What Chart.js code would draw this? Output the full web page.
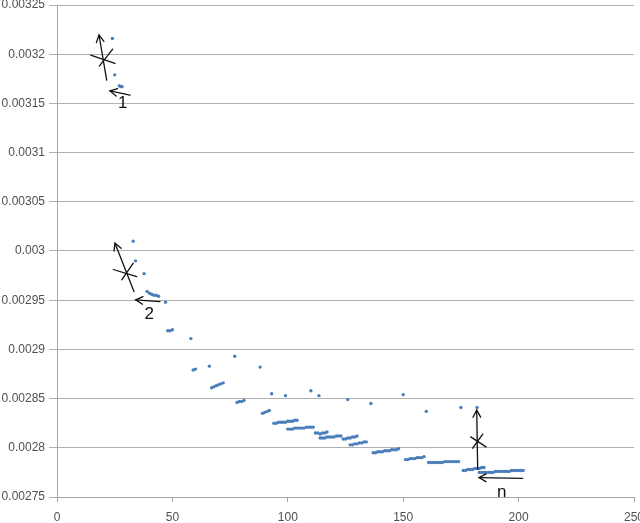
<!DOCTYPE html>
<html>
<head>
<meta charset="utf-8">
<script src="https://cdn.jsdelivr.net/npm/chart.js@4/dist/chart.umd.min.js"></script>
<style>
html,body{margin:0;padding:0;background:#fff;}
#wrap{width:640px;height:523px;position:relative;}
</style>
</head>
<body>
<div id="wrap"><canvas id="c" width="640" height="523"></canvas></div>
<script>
// Data
const xValues = [
  24, 25, 27, 27.6, 28.2,
  33, 34, 37.7, 39, 40, 41, 42, 43, 44, 47, 48, 49, 50, 58,
  59, 60, 66, 67, 68, 69, 70, 71, 72, 77, 78, 79, 80, 81,
  88, 89, 90, 91, 92, 93,
  94, 95, 96, 97, 98, 99, 100, 101, 102, 103, 104,
  99, 100, 101, 102, 103, 104, 105, 106, 107, 108, 109, 110, 111,
  110, 113.5, 112, 113, 114, 115, 116, 117,
  114, 115, 116, 117, 118, 119, 120, 121, 122, 123,
  124, 125, 126, 127, 128, 129, 130, 126,
  127, 128, 129, 130, 131, 132, 133, 134, 136,
  137, 138, 139, 140, 141, 142, 143, 144, 145, 146, 147, 148, 150,
  151, 152, 153, 154, 155, 156, 157, 158, 159, 160,
  161, 162, 163, 164, 165, 166, 167, 168, 169, 170, 171, 172, 173, 174, 175,
  176, 177, 178, 179, 180, 181, 182, 183, 184, 185, 182,
  183, 184, 185, 186, 187, 188, 189, 190, 191, 192, 193, 194, 195, 196, 197, 198, 199, 200, 201, 202
];
const yValues = [
  0.003216, 0.003179, 0.003168, 0.003167, 0.003167,
  0.003010, 0.002990, 0.002977, 0.002959, 0.002957, 0.002956, 0.002955, 0.002955, 0.002954, 0.002948, 0.002919, 0.002919, 0.002920, 0.002911,
  0.002879, 0.002880, 0.002883, 0.002861, 0.002862, 0.002863, 0.002864, 0.002865, 0.002866, 0.002893, 0.002846, 0.002847, 0.002847, 0.002848,
  0.002882, 0.002835, 0.002836, 0.002837, 0.002838, 0.002855,
  0.002825, 0.002825, 0.002826, 0.002826, 0.002826, 0.002826, 0.002827, 0.002827, 0.002827, 0.002828, 0.002828,
  0.002853, 0.002819, 0.002819, 0.002819, 0.002820, 0.002820, 0.002820, 0.002820, 0.002820, 0.002821, 0.002821, 0.002821, 0.002821,
  0.002858, 0.002853, 0.002815, 0.002815, 0.002814, 0.002815, 0.002815, 0.002816,
  0.002810, 0.002810, 0.002810, 0.002811, 0.002811, 0.002811, 0.002811, 0.002812, 0.002812, 0.002812,
  0.002809, 0.002809, 0.002810, 0.002810, 0.002811, 0.002811, 0.002812, 0.002849,
  0.002803, 0.002803, 0.002804, 0.002804, 0.002805, 0.002805, 0.002806, 0.002806, 0.002845,
  0.002795, 0.002795, 0.002796, 0.002796, 0.002796, 0.002797, 0.002797, 0.002797, 0.002798, 0.002798, 0.002798, 0.002799, 0.002854,
  0.002788, 0.002788, 0.002789, 0.002789, 0.002789, 0.002790, 0.002790, 0.002790, 0.002791, 0.002837,
  0.002785, 0.002785, 0.002785, 0.002785, 0.002785, 0.002785, 0.002785, 0.002786, 0.002786, 0.002786, 0.002786, 0.002786, 0.002786, 0.002786, 0.002841,
  0.002777, 0.002777, 0.002778, 0.002778, 0.002778, 0.002779, 0.002779, 0.002779, 0.002780, 0.002780, 0.002841,
  0.002775, 0.002775, 0.002775, 0.002775, 0.002775, 0.002775, 0.002775, 0.002776, 0.002776, 0.002776, 0.002776, 0.002776, 0.002776, 0.002776, 0.002777, 0.002777, 0.002777, 0.002777, 0.002777, 0.002777
];
const xTicks = [0, 50, 100, 150, 200, 250];
const yTicks = [0.00275, 0.0028, 0.00285, 0.0029, 0.00295, 0.003, 0.00305, 0.0031, 0.00315, 0.0032, 0.00325];
const yTickLabels = ['0.00275','0.0028','0.00285','0.0029','0.00295','0.003','0.00305','0.0031','0.00315','0.0032','0.00325'];

// Hand-drawn annotations, in data coordinates
const markLabels = ['1', '2', 'n'];
const markLabelPos = [[28.47, 0.0031499], [39.99, 0.0029353], [192.68, 0.0027544]];
const markArrows = [ // [fromX, fromY, toX(tip), toY(tip)]
  [21.53, 0.0031736, 18.20, 0.0032195],
  [31.63, 0.0031584, 22.96, 0.0031627],
  [33.36, 0.0029588, 25.13, 0.0030079],
  [44.63, 0.0029486, 34.10, 0.0029503],
  [182.28, 0.0027782, 181.85, 0.0028383],
  [201.78, 0.0027690, 182.84, 0.0027697]
];
const markCrossLines = [
  [14.60, 0.0031991, 25.13, 0.0031906],
  [18.33, 0.0031879, 24.13, 0.0032052],
  [24.39, 0.0029812, 34.53, 0.0029740],
  [28.03, 0.0029707, 33.06, 0.0029876],
  [179.25, 0.0028111, 185.88, 0.0028009],
  [180.11, 0.0027996, 184.45, 0.0028139]
];

const points = xValues.map((x, i) => ({x: x, y: yValues[i]}));

const annotate = {
  id: 'annotate',
  afterDatasetsDraw(chart) {
    const ctx = chart.ctx, xs = chart.scales.x, ys = chart.scales.y;
    const P = (x, y) => [xs.getPixelForValue(x), ys.getPixelForValue(y)];
    ctx.save();
    ctx.strokeStyle = '#111';
    ctx.lineWidth = 1.3;
    ctx.lineCap = 'round';
    markCrossLines.forEach(l => {
      const a = P(l[0], l[1]), b = P(l[2], l[3]);
      ctx.beginPath(); ctx.moveTo(a[0], a[1]); ctx.lineTo(b[0], b[1]); ctx.stroke();
    });
    markArrows.forEach(l => {
      const a = P(l[0], l[1]), b = P(l[2], l[3]);
      ctx.beginPath(); ctx.moveTo(a[0], a[1]); ctx.lineTo(b[0], b[1]); ctx.stroke();
      const ang = Math.atan2(b[1] - a[1], b[0] - a[0]);
      const len = 8, spread = 0.5;
      ctx.beginPath();
      ctx.moveTo(b[0] - len * Math.cos(ang - spread), b[1] - len * Math.sin(ang - spread));
      ctx.lineTo(b[0], b[1]);
      ctx.lineTo(b[0] - len * Math.cos(ang + spread), b[1] - len * Math.sin(ang + spread));
      ctx.stroke();
    });
    ctx.fillStyle = '#111';
    ctx.font = '17px "Liberation Sans", Arial, sans-serif';
    ctx.textAlign = 'center';
    ctx.textBaseline = 'middle';
    markLabels.forEach((t, i) => {
      const p = P(markLabelPos[i][0], markLabelPos[i][1]);
      ctx.fillText(t, p[0], p[1]);
    });
    ctx.restore();
  }
};

const tickFont = {family: '"Liberation Sans", Arial, sans-serif', size: 12};

new Chart(document.getElementById('c'), {
  type: 'scatter',
  data: {
    datasets: [{
      data: points,
      backgroundColor: '#4a7ebb',
      borderColor: '#4a7ebb',
      pointRadius: 1.7,
      pointBorderWidth: 0
    }]
  },
  options: {
    responsive: false,
    animation: false,
    devicePixelRatio: 1,
    layout: {padding: {top: 5, right: 6, left: 0, bottom: 0}},
    plugins: {legend: {display: false}, tooltip: {enabled: false}},
    scales: {
      x: {
        type: 'linear', min: 0, max: 250,
        afterBuildTicks: s => { s.ticks = xTicks.map(v => ({value: v})); },
        afterFit: s => { s.height = 26; s.paddingLeft = 0; s.paddingRight = 0; },
        grid: {drawOnChartArea: false, drawTicks: true, tickLength: 5, color: '#a6a6a6'},
        border: {color: '#a6a6a6', width: 1},
        ticks: {color: '#505050', font: tickFont, padding: 8, maxRotation: 0}
      },
      y: {
        type: 'linear', min: 0.00275, max: 0.00325,
        afterBuildTicks: s => { s.ticks = yTicks.map(v => ({value: v})); },
        afterFit: s => { s.width = 57; s.paddingTop = 0; s.paddingBottom = 0; },
        grid: {color: '#b0b0b0', lineWidth: 1, tickLength: 8},
        border: {color: '#a6a6a6', width: 1},
        ticks: {
          color: '#505050', font: tickFont, padding: 4,
          callback: (v) => { const i = yTicks.findIndex(t => Math.abs(t - v) < 1e-9); return i >= 0 ? yTickLabels[i] : ''; }
        }
      }
    }
  },
  plugins: [annotate]
});
</script>
</body>
</html>
